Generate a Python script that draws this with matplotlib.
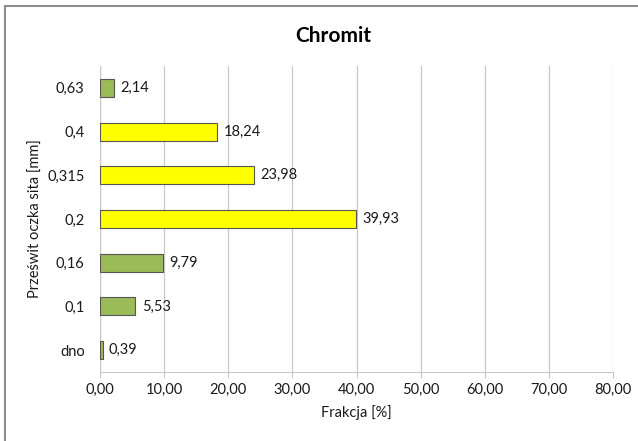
import matplotlib.pyplot as plt
from matplotlib.patches import Rectangle

plt.rcParams['font.family'] = ['Lato', 'DejaVu Sans']

sita = ["dno", "0,1", "0,16", "0,2", "0,315", "0,4", "0,63"]
frakcja = [0.39, 5.53, 9.79, 39.93, 23.98, 18.24, 2.14]
kolory = ["#9bbb59", "#9bbb59", "#9bbb59", "#ffff00", "#ffff00", "#ffff00", "#9bbb59"]
xticks = [0, 10, 20, 30, 40, 50, 60, 70, 80]

fig = plt.figure(figsize=(6.38, 4.41), dpi=100)
ax = fig.add_axes([100 / 638, 69 / 441, 513 / 638, 306 / 441])

# ramka wykresu (tylko gorna i lewa krawedz widoczna)
fig.patches.append(Rectangle((5 / 638, -0.1), 1.2, 1.1 - 6 / 441,
                             transform=fig.transFigure, fill=False,
                             edgecolor='#8c8c8c', linewidth=1.5))

pos = range(len(sita))
ax.barh(pos, frakcja, height=0.41, color=kolory, edgecolor='#555555',
        linewidth=0.8, zorder=3)
for y, v in zip(pos, frakcja):
    ax.text(v + 1.0, y, f"{v:.2f}".replace('.', ','), va='center',
            ha='left', fontsize=10.5, color='#1a1a1a', zorder=4)

ax.set_xlim(0, 80)
ax.set_ylim(-0.5, len(sita) - 0.5)
ax.set_xticks(xticks)
ax.set_xticklabels([f"{t:.2f}".replace('.', ',') for t in xticks],
                   fontsize=10.5, color='#1a1a1a')
ax.set_yticks(list(pos))
ax.set_yticklabels(sita, fontsize=10.5, color='#1a1a1a')
ax.grid(True, axis='x', color='#c8c8c8', linewidth=0.9, zorder=0)
for s in ['top', 'right', 'left']:
    ax.spines[s].set_visible(False)
ax.spines['bottom'].set_color('#c8c8c8')
ax.tick_params(axis='y', length=0, pad=11)
ax.tick_params(axis='x', length=4, color='#c8c8c8', pad=4)
ax.axvline(0, color='#c8c8c8', linewidth=0.9, zorder=1)

ax.set_xlabel("Frakcja [%]", fontsize=10.5, color='#1a1a1a', labelpad=6)
ax.set_ylabel("Prześwit oczka sita [mm]", fontsize=10.5, color='#1a1a1a', labelpad=3)
fig.text(0.5 + 14 / 638, 1 - 36 / 441, "Chromit", ha='center', va='center',
         fontsize=15, fontweight='bold')

fig.savefig("out.png", dpi=100)
